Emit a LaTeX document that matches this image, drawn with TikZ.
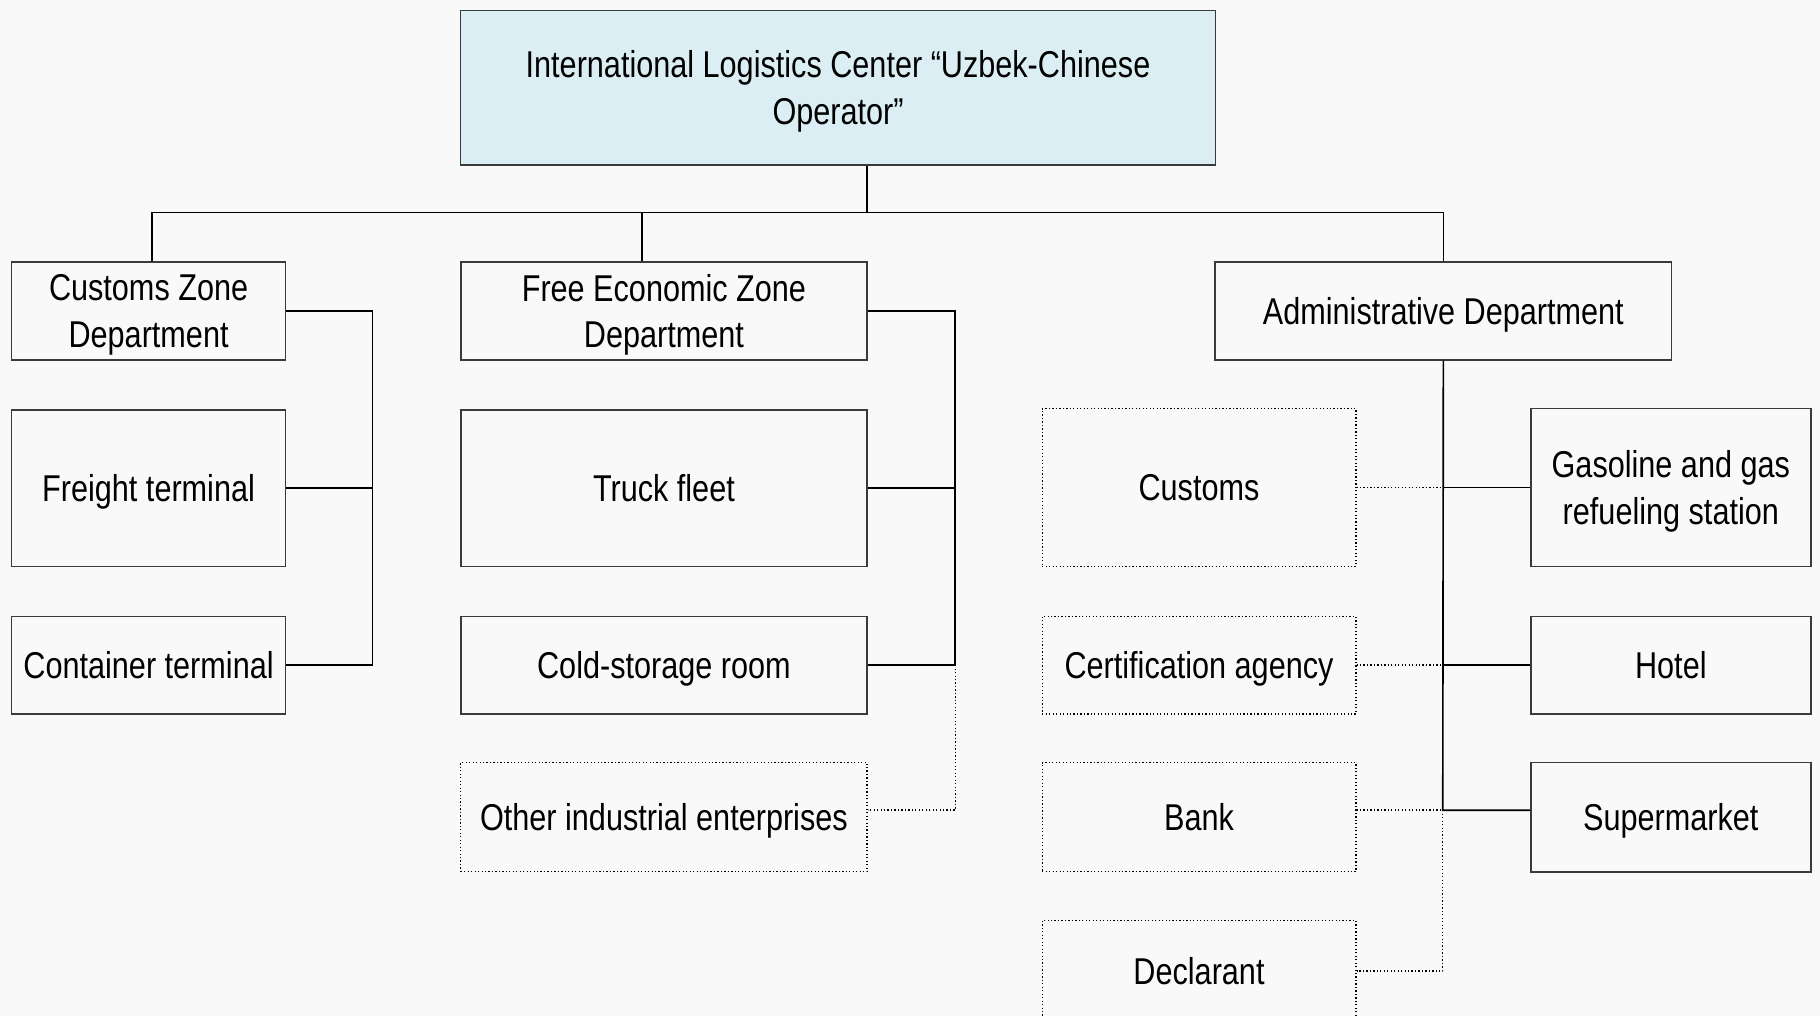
\documentclass[tikz,border=0pt]{standalone}
\usepackage{fontspec}
\setmainfont{Liberation Sans}[FakeStretch=0.82]
\definecolor{topfill}{HTML}{DAEEF3}
\definecolor{bordergray}{HTML}{3A3A3A}
\definecolor{bg}{HTML}{F9F9F9}
\begin{document}
\begin{tikzpicture}[x=0.01cm,y=-0.01cm,
  font=\fontsize{9.15}{11.4}\selectfont,
  box/.style={draw=bordergray,line width=0.4pt,align=center,inner sep=0pt,text depth=0pt},
  dbox/.style={draw=black,line width=0.35pt,dash pattern=on 0.3pt off 0.55pt,align=center,inner sep=0pt,text depth=0pt},
  conn/.style={draw=black,line width=0.4pt},
  dconn/.style={draw=black,line width=0.35pt,dash pattern=on 0.3pt off 0.55pt}]
\fill[bg] (0,0) rectangle (1568,875);
\clip (0,0) rectangle (1568,875);
\useasboundingbox (0,0) rectangle (1568,875);
% top
\node[box,fill=topfill,minimum width=6.5cm,minimum height=1.33cm] (top) at (722,75.5)
  {International Logistics Center “Uzbek-Chinese\\Operator”};
% left column
\node[box,minimum width=2.36cm,minimum height=0.84cm] (czd) at (128,268) {Customs Zone\\Department};
\node[box,minimum width=2.36cm,minimum height=1.35cm] (freight) at (128,420.5) {Freight terminal};
\node[box,minimum width=2.36cm,minimum height=0.84cm] (container) at (128,573) {Container terminal};
% middle column
\node[box,minimum width=3.5cm,minimum height=0.84cm] (fez) at (572,268) {Free Economic Zone\\Department};
\node[box,minimum width=3.5cm,minimum height=1.35cm] (truck) at (572,420.5) {Truck fleet};
\node[box,minimum width=3.5cm,minimum height=0.84cm] (cold) at (572,573) {Cold-storage room};
\node[dbox,minimum width=3.5cm,minimum height=0.94cm] (other) at (572,704) {Other industrial enterprises};
% admin
\node[box,minimum width=3.93cm,minimum height=0.84cm] (admin) at (1243.5,268) {Administrative Department};
% dotted partners
\node[dbox,minimum width=2.7cm,minimum height=1.36cm] (customs) at (1033,420) {Customs};
\node[dbox,minimum width=2.7cm,minimum height=0.84cm] (cert) at (1033,573) {Certification agency};
\node[dbox,minimum width=2.7cm,minimum height=0.94cm] (bank) at (1033,704) {Bank};
\node[dbox,minimum width=2.7cm,minimum height=0.87cm] (decl) at (1033,836.5) {Declarant};
% right column
\node[box,minimum width=2.41cm,minimum height=1.36cm] (gas) at (1439.5,420) {Gasoline and gas\\refueling station};
\node[box,minimum width=2.41cm,minimum height=0.84cm] (hotel) at (1439.5,573) {Hotel};
\node[box,minimum width=2.41cm,minimum height=0.94cm] (super) at (1439.5,704) {Supermarket};
% coordinates
\coordinate (bus) at (747,183);
\coordinate (spineL) at (321,0);
\coordinate (spineM) at (823,0);
\coordinate (spineR) at (1243,0);
\coordinate (otherj) at ([yshift=0.06cm]other.east);
\coordinate (bankj) at ([yshift=0.06cm]bank.east);
\coordinate (superj) at ([yshift=0.06cm]super.west);
% bus
\draw[conn] (bus) -- (bus |- top.south);
\draw[conn] ([xshift=0.03cm]czd.north) |- (bus) -| (admin.north);
\draw[conn] ([xshift=-0.19cm]fez.north) -- ([xshift=-0.19cm]fez.north |- bus);
% left spine
\draw[conn] (czd.east) -| (spineL |- container.east) -- (container.east);
\draw[conn] (freight.east) -- (spineL |- freight.east);
% middle spine
\draw[conn] (fez.east) -| (spineM |- cold.east) -- (cold.east);
\draw[conn] (truck.east) -- (spineM |- truck.east);
\draw[dconn] (spineM |- cold.east) |- (otherj);
% admin spine
\draw[conn] (admin.south) -- (spineR |- superj) -- (superj);
\draw[conn] (gas.west) -- (spineR |- gas.west);
\draw[conn] (hotel.west) -- (spineR |- hotel.west);
\draw[dconn] (customs.east) -- (spineR |- customs.east);
\draw[dconn] (cert.east) -- (spineR |- cert.east);
\draw[dconn] (bankj) -- (spineR |- bankj);
\draw[dconn] (spineR |- bankj) |- (decl.east);
\end{tikzpicture}
\end{document}
